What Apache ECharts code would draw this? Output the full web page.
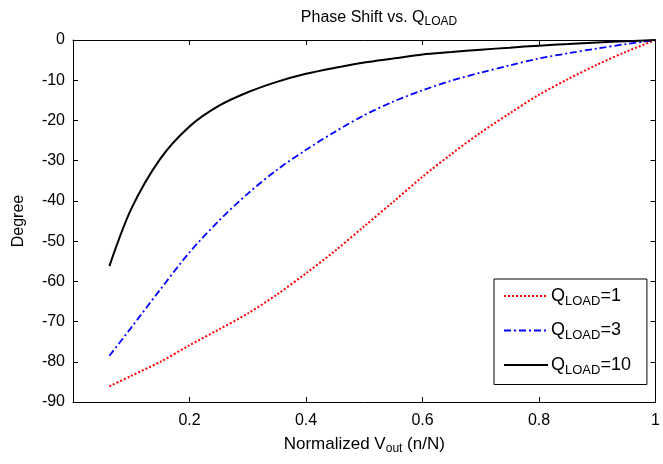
<!DOCTYPE html>
<html>
<head>
<meta charset="utf-8">
<script src="https://cdn.jsdelivr.net/npm/echarts@6/dist/echarts.min.js"></script>
<style>html,body{margin:0;padding:0;background:#fff;}#c{width:663px;height:464px;}</style>
</head>
<body>
<div id="c"></div>
<script>
const vout = [0.0625, 0.1, 0.15, 0.2, 0.25, 0.3, 0.35, 0.4, 0.45, 0.5, 0.55, 0.6, 0.65, 0.7, 0.75, 0.8, 0.85, 0.9, 0.95, 1.0];
const q1 = [-86.1, -83.5, -80, -75.9, -72, -68, -63.3, -58, -52.4, -46.3, -40.2, -34, -28.3, -23, -18.2, -13.6, -9.7, -6.1, -2.9, 0];
const q3 = [-78.5, -71.5, -62, -52.8, -45, -38.2, -32.3, -27.3, -22.8, -18.7, -15.3, -12.5, -10.1, -8.1, -6.3, -4.6, -3.3, -2.1, -1, 0];
const q10 = [-56.2, -42, -29.5, -21.5, -16.4, -13, -10.4, -8.4, -6.9, -5.6, -4.6, -3.6, -3, -2.4, -1.9, -1.4, -1, -0.6, -0.3, 0];
const seriesNames = ['Q1', 'Q3', 'Q10'];
const legendLabels = {Q1: 'Q{sub|LOAD}=1', Q3: 'Q{sub|LOAD}=3', Q10: 'Q{sub|LOAD}=10'};
const xTicks = [0.2, 0.4, 0.6, 0.8, 1];
const FONT = '"Liberation Sans", Arial, sans-serif';

function pairs(ys) { return vout.map((x, i) => [x, ys[i]]); }
function axisLine() { return {show: true, onZero: false, lineStyle: {color: '#000', width: 1}}; }
function tick() { return {show: true, inside: true, length: 5, lineStyle: {color: '#000', width: 1}}; }

const chart = echarts.init(document.getElementById('c'));
chart.setOption({
  animation: false,
  backgroundColor: '#fff',
  title: {
    text: 'Phase Shift vs. Q{sub|LOAD}',
    left: 374, top: 2, textAlign: 'center',
    textStyle: {
      fontFamily: FONT, fontSize: 16, fontWeight: 'normal', color: '#000',
      rich: {sub: {fontFamily: FONT, fontSize: 12, color: '#000', padding: [9, 0, 0, 0]}}
    }
  },
  grid: {left: 73, right: 3, top: 40, bottom: 62},
  legend: {
    data: seriesNames,
    orient: 'vertical',
    left: 494, top: 279,
    padding: [8, 16, 8, 9],
    itemWidth: 44, itemHeight: 14, itemGap: 14,
    borderColor: '#000', borderWidth: 1, borderRadius: 0,
    backgroundColor: '#fff',
    itemStyle: {opacity: 0},
    formatter: n => legendLabels[n],
    textStyle: {
      fontFamily: FONT, fontSize: 18, color: '#000', padding: [0, 0, 0, -2],
      rich: {sub: {fontFamily: FONT, fontSize: 13, color: '#000', padding: [10, 0, 0, 0]}}
    }
  },
  xAxis: [{
    type: 'value', min: 0, max: 1, interval: 0.2,
    axisLine: axisLine(), axisTick: tick(), splitLine: {show: false},
    axisLabel: {
      fontFamily: FONT, fontSize: 16, color: '#000', margin: 11,
      formatter: v => xTicks.indexOf(+v.toFixed(2)) >= 0 ? (v === 1 ? '1' : v.toFixed(1)) : ''
    },
    name: 'Normalized V{sub|out} (n/N)',
    nameLocation: 'middle', nameGap: 31,
    nameTextStyle: {
      fontFamily: FONT, fontSize: 17, color: '#000',
      rich: {sub: {fontFamily: FONT, fontSize: 12, color: '#000', padding: [10, 0, 0, 0]}}
    }
  }, {
    type: 'value', min: 0, max: 1, interval: 0.2, position: 'top',
    axisLine: axisLine(), axisTick: tick(), splitLine: {show: false}, axisLabel: {show: false}
  }],
  yAxis: [{
    type: 'value', min: -90, max: 0, interval: 10,
    axisLine: axisLine(), axisTick: tick(), splitLine: {show: false},
    axisLabel: {fontFamily: FONT, fontSize: 16, color: '#000', margin: 8},
    name: 'Degree', nameLocation: 'middle', nameGap: 46,
    nameTextStyle: {fontFamily: FONT, fontSize: 16, color: '#000'}
  }, {
    type: 'value', min: -90, max: 0, interval: 10, position: 'right',
    axisLine: axisLine(), axisTick: tick(), splitLine: {show: false}, axisLabel: {show: false}
  }],
  series: [
    {name: 'Q1', type: 'line', data: pairs(q1), smooth: 0.3, symbol: 'none',
     lineStyle: {color: '#ff0000', width: 2, type: [2, 2]}, itemStyle: {color: '#ff0000'}},
    {name: 'Q3', type: 'line', data: pairs(q3), smooth: 0.3, symbol: 'none',
     lineStyle: {color: '#0000ff', width: 1.8, type: [7, 3, 2, 3]}, itemStyle: {color: '#0000ff'}},
    {name: 'Q10', type: 'line', data: pairs(q10), smooth: 0.3, symbol: 'none',
     lineStyle: {color: '#000000', width: 2, type: 'solid'}, itemStyle: {color: '#000000'}}
  ]
});
</script>
</body>
</html>
